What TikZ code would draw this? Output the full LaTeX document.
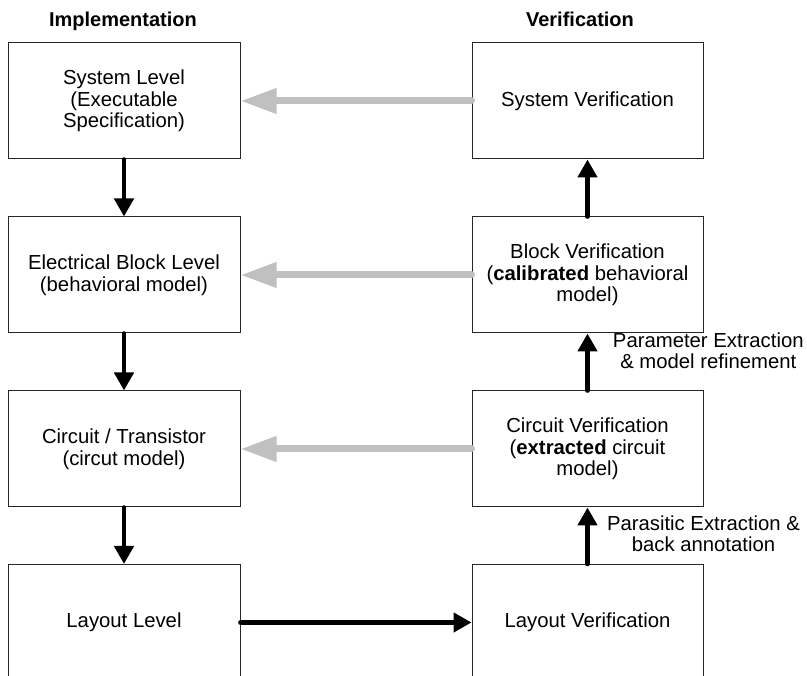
\documentclass[tikz,border=0pt]{standalone}
\usepackage{fontspec}
\setmainfont{Liberation Sans}
\usetikzlibrary{arrows.meta}
\definecolor{arrgray}{RGB}{192,192,192}
\begin{document}
\begin{tikzpicture}[x=1pt,y=1pt,
  txt/.style={font=\fontsize{20.3}{21.5}\selectfont, align=center},
  lbox/.style={txt, draw=black!85, line width=1pt, minimum width=232pt, minimum height=116pt, inner sep=0pt},
  rbox/.style={lbox, minimum width=231pt},
  hdr/.style={font=\fontsize{20}{24}\selectfont\bfseries, anchor=base},
  blk/.style={line width=4.6pt, line cap=round, -{Triangle[length=18pt,width=19pt]}},
  gry/.style={draw=arrgray, line width=7pt, line cap=round, -{Triangle[length=36pt,width=24pt]}},
  lab/.style={txt}
]
\path[use as bounding box, clip] (0,0) rectangle (807,-676);
\fill[white] (0,0) rectangle (807,-676);

\node[hdr] (himp) at (123,-26.7) {Implementation};
\node[hdr] (hver) at (580,-26.7) {Verification};

\node[lbox] (sl) at (124,-101) {System Level\\(Executable\\Specification)};
\node[lbox] (el) at (124,-275) {Electrical Block Level\\(behavioral model)};
\node[lbox] (cl) at (124,-449) {Circuit / Transistor\\(circut model)};
\node[lbox] (ll) at (124,-622.5) {Layout Level};

\node[rbox] (sv) at (587.5,-101) {System Verification};
\node[rbox] (bv) at (587.5,-275) {Block Verification\\(\textbf{calibrated} behavioral\\model)};
\node[rbox] (cv) at (587.5,-449) {Circuit Verification\\(\textbf{extracted} circuit\\model)};
\node[rbox] (lv) at (587.5,-622.5) {Layout Verification};

\node[lab] (pe) at (708.3,-350.5) {Parameter Extraction\\\& model refinement};
\node[lab] (pa) at (703.5,-533.6) {Parasitic Extraction \&\\back annotation};

\draw[blk] (sl.south) -- (el.north);
\draw[blk] (el.south) -- (cl.north);
\draw[blk] (cl.south) -- (ll.north);
\draw[blk] (ll.east) -- (lv.west);
\draw[blk] (lv.north) -- (cv.south);
\draw[blk] (cv.north) -- (bv.south);
\draw[blk] (bv.north) -- (sv.south);

\draw[gry] (sv.west) -- (sl.east);
\draw[gry] (bv.west) -- (el.east);
\draw[gry] (cv.west) -- (cl.east);
\end{tikzpicture}
\end{document}
